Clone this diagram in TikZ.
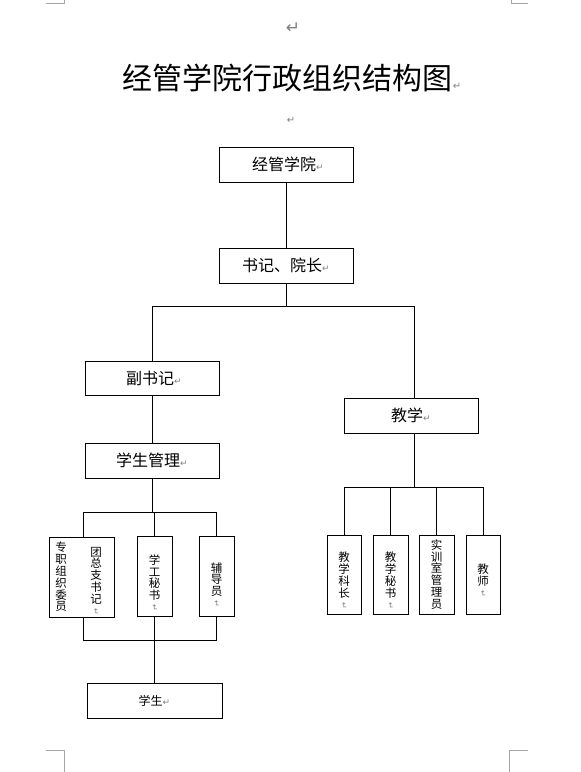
\documentclass[tikz,border=0pt]{standalone}
\usepackage{fontspec}
\setmainfont{Noto Sans CJK SC}
\newfontfamily\symf{DejaVu Sans}
\newcommand\parmark[1][9]{{\fontsize{#1}{#1}\selectfont\symf\color{gray}↵}}
\newcommand\vmark{\raisebox{1pt}{\rotatebox[origin=c]{-90}{\parmark[8]}}}
\begin{document}
\begin{tikzpicture}[x=1pt,y=-1pt,
  box/.style={draw, line width=0.8pt, inner sep=0pt, font=\fontsize{16}{16}\selectfont},
  wbox/.style={box, minimum width=134pt, minimum height=35pt},
  vbox/.style={box, minimum width=35pt, minimum height=80pt},
  vtext/.style={inner sep=0pt, align=center, font=\fontsize{11.5}{11.8}\selectfont},
  conn/.style={line width=0.8pt},
  corner/.style={gray!70, line width=0.8pt}]
\useasboundingbox (0,0) rectangle (581,772);
% corner marks
\draw[corner] (46,3) -- (64,3) -- (64,0);
\draw[corner] (528,3) -- (511,3) -- (511,0);
\draw[corner] (46,750) -- (64,750) -- (64,772);
\draw[corner] (528,750) -- (509,750) -- (509,772);
% paragraph marks and title
\node (m0) at (293,28) {\parmark[17]};
\node[font=\fontsize{30}{30}\selectfont] (title) at (292,78) {经管学院行政组织结构图\parmark[10]};
\node (m1) at (291,120) {\parmark[10]};
% boxes
\node[wbox] (jg) at (286,164.5) {\hspace{4pt}经管学院\parmark};
\node[wbox] (sj) at (286,265.5) {书记、院长\parmark};
\node[wbox, minimum height=34pt] (fsj) at (152,378) {\hspace{4pt}副书记\parmark};
\node[wbox] (xsgl) at (152,460.5) {学生管理\parmark};
\node[wbox] (jx) at (411,415.5) {教学\parmark};
\node[box, minimum width=65pt, minimum height=80pt] (a) at (81.5,577) {};
\node[vtext] (a1) at (61,577) {专\\职\\组\\织\\委\\员};
\node[vtext] (a2) at (96,581) {团\\总\\支\\书\\记\\\vmark};
\node[vbox] (b) at (154.5,576) {};
\node[vtext, yshift=-7pt] (bt) at (b) {学\\工\\秘\\书\\\vmark};
\node[vbox] (c) at (216.5,576) {};
\node[vtext, yshift=-9pt] (ct) at (c) {辅\\导\\员\\\vmark};
\node[box, minimum width=135pt, minimum height=35pt, font=\fontsize{12}{12}\selectfont] (xs) at (154.5,700.5) {学生\parmark};
\node[vbox, minimum width=34pt, minimum height=79pt] (r1) at (344,574.5) {};
\node[vtext, yshift=-6pt] (r1t) at (r1) {教\\学\\科\\长\\\vmark};
\node[vbox, minimum height=79pt] (r2) at (390.5,574.5) {};
\node[vtext, yshift=-6pt] (r2t) at (r2) {教\\学\\秘\\书\\\vmark};
\node[vbox, minimum height=79pt] (r3) at (436.5,574.5) {};
\node[vtext] (r3t) at (r3) {实\\训\\室\\管\\理\\员};
\node[vbox, minimum width=34pt, minimum height=79pt] (r4) at (483,574.5) {};
\node[vtext, yshift=-6pt] (r4t) at (r4) {教\\师\\\vmark};
% connectors
\draw[conn] (jg) -- (sj);
\coordinate (j1) at ([yshift=-23pt]sj.south);
\draw[conn] (sj.south) -- (j1);
\draw[conn] (fsj.north) |- (j1) -| ([xshift=3pt]jx.north);
\draw[conn] (fsj) -- (xsgl);
\coordinate (j2) at ([yshift=-34pt]xsgl.south);
\draw[conn] (xsgl.south) -- (j2);
\draw[conn] ([xshift=1.5pt]a.north) |- (j2) -| (c.north);
\draw[conn] (b.north) -- (b.north |- j2);
\coordinate (j3) at ([yshift=-24pt]b.south);
\draw[conn] ([xshift=1.5pt]a.south) |- (j3) -| (c.south);
\draw[conn] (b.south) -- (xs.north);
\coordinate (j4) at ([xshift=3pt,yshift=-54pt]jx.south);
\draw[conn] ([xshift=3pt]jx.south) -- (j4);
\draw[conn] (r1.north) |- (j4) -| (r4.north);
\draw[conn] (r2.north) -- (r2.north |- j4);
\draw[conn] (r3.north) -- (r3.north |- j4);
\end{tikzpicture}
\end{document}
